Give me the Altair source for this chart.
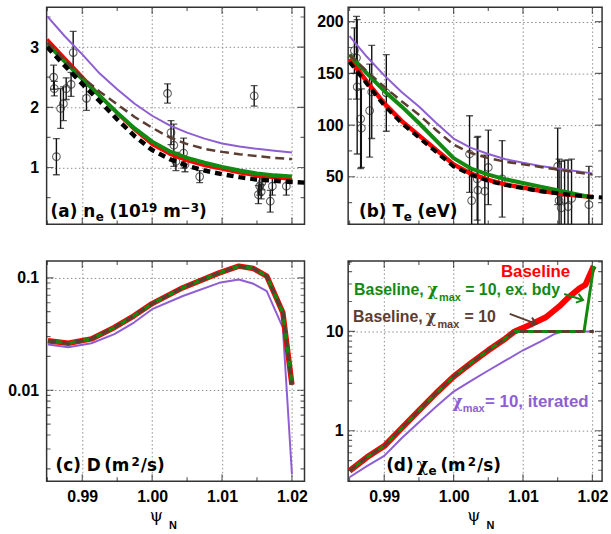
import altair as alt
import pandas as pd

# ---------------- data ----------------
PSI = [0.985, 0.9875, 0.99, 0.9925, 0.995, 0.9975, 1.0, 1.0025, 1.005, 1.0075,
       1.01, 1.0125, 1.015, 1.0175, 1.02]
PSI_FIT = PSI + [1.0225]

# (a) n_e (1e19 m^-3)
NE_ITERATED = [3.51, 3.18, 2.88, 2.56, 2.30, 2.06, 1.86, 1.70, 1.58, 1.48, 1.40, 1.35, 1.31, 1.28, 1.25]
NE_CHI10 = [3.08, 2.78, 2.50, 2.26, 2.05, 1.84, 1.66, 1.50, 1.39, 1.31, 1.26, 1.22, 1.19, 1.16, 1.14]
NE_BASELINE = [3.13, 2.82, 2.51, 2.20, 1.90, 1.62, 1.38, 1.22, 1.11, 1.03, 0.97, 0.91, 0.86, 0.83, 0.80]
NE_EXBDY = [3.05, 2.76, 2.47, 2.19, 1.91, 1.65, 1.43, 1.27, 1.16, 1.08, 1.01, 0.95, 0.90, 0.87, 0.85]
NE_FIT = [3.00, 2.69, 2.39, 2.10, 1.80, 1.52, 1.29, 1.14, 1.03, 0.95, 0.89, 0.84, 0.80, 0.78, 0.76, 0.745]

NE_PTS_PSI = [0.9859, 0.9860, 0.9863, 0.9869, 0.9873, 0.9877, 0.9884, 0.9887, 0.9906,
              1.0022, 1.0027, 1.0031, 1.0034, 1.0045, 1.0047, 1.0068,
              1.0146, 1.0152, 1.0154, 1.0156, 1.0157, 1.0169, 1.0172, 1.0192]
NE_PTS = [2.50, 2.31, 1.18, 1.98, 2.06, 2.31, 2.38, 2.91, 2.15,
          2.23, 1.58, 1.37, 1.10, 1.24, 1.05, 0.85,
          2.19, 0.55, 0.69, 0.60, 0.75, 0.44, 0.69, 0.69]
NE_ERR = [0.20, 0.12, 0.30, 0.33, 0.28, 0.18, 0.20, 0.35, 0.20,
          0.16, 0.20, 0.35, 0.15, 0.25, 0.12, 0.10,
          0.17, 0.15, 0.15, 0.12, 0.12, 0.18, 0.15, 0.15]

# (b) T_e (eV)
TE_ITERATED = [186, 166, 148, 132, 118, 102, 87, 78, 72, 67, 63.5, 60.5, 58, 55.5, 53.3]
TE_CHI10 = [168, 152, 137, 123, 110, 95, 81, 73, 68, 64.5, 62, 59.5, 57, 54.5, 52.3]
TE_BASELINE = [164, 142, 121, 104, 90, 76, 62, 53, 47, 42.5, 39.5, 36.5, 34, 32, 30.5]
TE_EXBDY = [168, 150, 133, 118, 102, 85, 68, 58, 52, 47.5, 44, 40.5, 37, 33.5, 30]
TE_FIT = [161, 140, 119, 102, 88, 74, 60, 52, 46, 42, 39, 36, 34, 32, 30.5, 29.5]

TE_PTS_PSI = [0.9857, 0.9860, 0.9861, 0.9866, 0.9867, 0.9879, 0.9882, 0.9903,
              1.0023, 1.0026, 1.0034, 1.0035, 1.0045, 1.0050, 1.0070,
              1.0150, 1.0152, 1.0155, 1.0160, 1.0165, 1.0170, 1.0195]
TE_PTS = [172, 165, 137, 106, 97, 114, 132, 131,
          72, 27, 48, 37, 36, 59, 48,
          60, 27, 20, 28, 21, 29, 23]
TE_ERR = [22, 40, 65, 48, 38, 45, 45, 37,
          37, 30, 40, 52, 35, 36, 37,
          37, 40, 45, 38, 45, 38, 37]

# (c) D (m^2/s)
D_PSI = [0.9851, 0.9880, 0.9913, 0.9946, 0.9974, 1.0000, 1.0044, 1.0096, 1.0124,
         1.0145, 1.0164, 1.0187, 1.0200]
D_BASELINE = [0.0276, 0.0262, 0.0286, 0.0362, 0.0459, 0.0590, 0.0817, 0.1107, 0.127,
              0.121, 0.1035, 0.049, 0.0112]
D_ITERATED = [0.0255, 0.0241, 0.0262, 0.0316, 0.0400, 0.0526, 0.0689, 0.0903, 0.0966,
              0.0885, 0.0762, 0.036, 0.0018]

# (d) chi_e (m^2/s)
CHI_PSI_BASE = [0.985, 0.9875, 0.99, 0.9925, 0.995, 0.9975, 1.0, 1.0025, 1.005, 1.0075,
                1.0088, 1.0113, 1.0133, 1.0152, 1.0167, 1.0181, 1.0190, 1.0202]
CHI_BASELINE = [0.395, 0.54, 0.70, 1.06, 1.60, 2.40, 3.50, 4.79, 6.46, 8.5,
                10.0, 11.9, 13.9, 17.8, 22.5, 27.0, 29.5, 45.5]
CHI_PSI_CAP = [0.985, 0.9875, 0.99, 0.9925, 0.995, 0.9975, 1.0, 1.0025, 1.005, 1.0075,
               1.0088, 1.0202]
CHI_CAP10 = [0.395, 0.54, 0.70, 1.06, 1.60, 2.40, 3.50, 4.79, 6.46, 8.5, 10.0, 10.0]
CHI_PSI_EXBDY = [0.985, 0.9875, 0.99, 0.9925, 0.995, 0.9975, 1.0, 1.0025, 1.005, 1.0075,
                 1.0088, 1.0188, 1.0202]
CHI_EXBDY = [0.395, 0.54, 0.70, 1.06, 1.60, 2.40, 3.50, 4.79, 6.46, 8.5, 10.0, 10.0, 45.5]
CHI_PSI_ITER = [0.985, 0.9875, 0.99, 0.9925, 0.995, 0.9975, 1.0, 1.0025, 1.005, 1.0075,
                1.01, 1.0125, 1.0145, 1.0158, 1.0202]
CHI_ITERATED = [0.34, 0.44, 0.558, 0.84, 1.22, 1.75, 2.48, 3.17, 4.04, 5.1,
                6.46, 7.9, 9.4, 10.0, 10.0]

# annotation arrows in panel (d): start psi, start chi, end psi, end chi
ARROW_EXBDY = [1.01594, 23.8, 1.01866, 20.7]
ARROW_CAP10 = [1.00809, 15.0, 1.01190, 11.9]

# axis ticks
X_TICKS = [0.99, 1.00, 1.01, 1.02]
X_MINOR = [0.985, 0.995, 1.005, 1.015]
NE_TICKS, NE_MINOR = [1, 2, 3], [0.5, 1.5, 2.5, 3.5]
TE_TICKS, TE_MINOR = [50, 100, 150, 200], [25, 75, 125, 175]
D_TICKS = [0.01, 0.1]
D_MINOR = [0.002, 0.003, 0.004, 0.005, 0.006, 0.007, 0.008, 0.009,
           0.02, 0.03, 0.04, 0.05, 0.06, 0.07, 0.08, 0.09]
CHI_TICKS = [1, 10]
CHI_MINOR = [0.4, 0.5, 0.6, 0.7, 0.8, 0.9, 2, 3, 4, 5, 6, 7, 8, 9, 20, 30, 40, 50]

# ---------------- styles ----------------
SANS = "Liberation Sans"
LABEL_FONT = "DejaVu Sans"
GREEK = "DejaVu Serif"
PURPLE = "#8e5ed2"
BROWN = "#5c3d31"
RED = "#ff0000"
GREEN = "#128a12"
BLACK = "#000000"
FRAME = "#333333"
LBL = 17   # panel label size
SUB = 12   # sub/superscript size

W_L, W_R = 260, 256
H_T, H_B = 219, 222

XD_L = [0.9849, 1.0218]
XD_R = [0.9848, 1.0214]
XS_L = alt.Scale(domain=XD_L, nice=False, zero=False)
XS_R = alt.Scale(domain=XD_R, nice=False, zero=False)


def x_axis(labels):
    if labels:
        return alt.Axis(values=X_TICKS, format=".2f", grid=True, labelPadding=7, title=None)
    return alt.Axis(values=X_TICKS, labels=False, grid=True, title=None)


def line(psi, vals, xs, ys, xa, ya, color, width, dash=None, clip=True):
    df = pd.DataFrame({"psi": psi, "v": vals})
    kw = dict(color=color, strokeWidth=width, clip=clip, strokeJoin="round")
    if dash:
        kw["strokeDash"] = dash
    return alt.Chart(df).mark_line(**kw).encode(
        x=alt.X("psi:Q", scale=xs, axis=xa),
        y=alt.Y("v:Q", scale=ys, axis=ya),
    )


def points(psi, vals, errs, xs, ys, xa, ya):
    df = pd.DataFrame({"psi": psi, "v": vals,
                       "lo": [v - e for v, e in zip(vals, errs)],
                       "hi": [v + e for v, e in zip(vals, errs)]})
    base = alt.Chart(df)
    x = alt.X("psi:Q", scale=xs, axis=xa)
    bars = base.mark_rule(color="#111", strokeWidth=1.4, clip=True).encode(
        x=x, y=alt.Y("lo:Q", scale=ys, axis=ya), y2="hi:Q")
    cap_lo = base.mark_tick(color="#111", orient="horizontal", size=7, thickness=1.3,
                            clip=True).encode(x=x, y=alt.Y("lo:Q", scale=ys, axis=ya))
    cap_hi = base.mark_tick(color="#111", orient="horizontal", size=7, thickness=1.3,
                            clip=True).encode(x=x, y=alt.Y("hi:Q", scale=ys, axis=ya))
    circ = base.mark_point(shape="circle", filled=False, size=60, color="#222",
                           strokeWidth=1.1, clip=True).encode(
        x=x, y=alt.Y("v:Q", scale=ys, axis=ya))
    return [bars, cap_lo, cap_hi, circ]


def frame_ticks(xd, yd, xs, ys, xa, ya, ymaj, ymin):
    """Inward ticks on all four sides (half of each tick is clipped away)."""
    layers = []
    for vals, size in ((X_TICKS, 14), (X_MINOR, 8)):
        rows = [{"psi": v, "v": e} for v in vals for e in yd]
        layers.append(alt.Chart(pd.DataFrame(rows)).mark_tick(
            color="#222222", orient="vertical", size=size, thickness=1.2, clip=True).encode(
            x=alt.X("psi:Q", scale=xs, axis=xa), y=alt.Y("v:Q", scale=ys, axis=ya)))
    for vals, size in ((ymaj, 14), (ymin, 8)):
        rows = [{"psi": e, "v": v} for v in vals for e in xd]
        layers.append(alt.Chart(pd.DataFrame(rows)).mark_tick(
            color="#222222", orient="horizontal", size=size, thickness=1.2, clip=True).encode(
            x=alt.X("psi:Q", scale=xs, axis=xa), y=alt.Y("v:Q", scale=ys, axis=ya)))
    return layers


def txt(s, x, y, size=16, color=BLACK, font=SANS, weight="bold"):
    return alt.Chart(alt.Data(values=[{}])).mark_text(
        text=s, font=font, fontSize=size, fontWeight=weight, color=color,
        align="left", baseline="alphabetic").encode(x=alt.value(x), y=alt.value(y))


def lab(s, x, y, size=LBL, font=LABEL_FONT, weight="bold"):
    return txt(s, x, y, size, BLACK, font, weight)


# ---------------- panel (a) ----------------
YD_A = [0.056, 3.664]
ys_a = alt.Scale(domain=YD_A, nice=False, zero=False)
ya_a = alt.Axis(values=NE_TICKS, format="d", grid=True, labelPadding=8, title=None)
xa_a = x_axis(False)
pa = alt.layer(
    *frame_ticks(XD_L, YD_A, XS_L, ys_a, xa_a, ya_a, NE_TICKS, NE_MINOR),
    *points(NE_PTS_PSI, NE_PTS, NE_ERR, XS_L, ys_a, xa_a, ya_a),
    line(PSI, NE_ITERATED, XS_L, ys_a, xa_a, ya_a, PURPLE, 2),
    line(PSI, NE_BASELINE, XS_L, ys_a, xa_a, ya_a, RED, 3),
    line(PSI, NE_EXBDY, XS_L, ys_a, xa_a, ya_a, GREEN, 4),
    line(PSI, NE_CHI10, XS_L, ys_a, xa_a, ya_a, BROWN, 2.5, dash=[9, 5]),
    line(PSI_FIT, NE_FIT, XS_L, ys_a, xa_a, ya_a, BLACK, 4.5, dash=[7, 5]),
    lab("(a) n", 4, 211.5),
    lab("e", 49.5, 215.5, SUB),
    lab("(10", 63.5, 211.5),
    lab("19", 95, 206.5, SUB),
    lab("m", 117.6, 211.5),
    lab("\u22123", 135.3, 206.5, SUB),
    lab(")", 153.7, 211.5),
).properties(width=W_L, height=H_T)

# ---------------- panel (b) ----------------
YD_B = [4, 214]
ys_b = alt.Scale(domain=YD_B, nice=False, zero=False)
ya_b = alt.Axis(values=TE_TICKS, format="d", grid=True, labelPadding=5, title=None)
xa_b = x_axis(False)
pb = alt.layer(
    *frame_ticks(XD_R, YD_B, XS_R, ys_b, xa_b, ya_b, TE_TICKS, TE_MINOR),
    *points(TE_PTS_PSI, TE_PTS, TE_ERR, XS_R, ys_b, xa_b, ya_b),
    line(PSI, TE_ITERATED, XS_R, ys_b, xa_b, ya_b, PURPLE, 2),
    line(PSI, TE_BASELINE, XS_R, ys_b, xa_b, ya_b, RED, 4.5),
    line(PSI, TE_EXBDY, XS_R, ys_b, xa_b, ya_b, GREEN, 4),
    line(PSI, TE_CHI10, XS_R, ys_b, xa_b, ya_b, BROWN, 2.5, dash=[9, 5]),
    line(PSI_FIT, TE_FIT, XS_R, ys_b, xa_b, ya_b, BLACK, 4, dash=[7, 5]),
    lab("(b) T", 11, 211.5),
    lab("e", 56, 215.5, SUB),
    lab("(eV)", 70, 211.5),
).properties(width=W_R, height=H_T)

# ---------------- panel (c) ----------------
YD_C = [0.00155, 0.141]
ys_c = alt.Scale(type="log", domain=YD_C, nice=False)
ya_c = alt.Axis(values=D_TICKS, format="~g", grid=True, labelPadding=8, title=None)
xa_c = x_axis(True)
pc = alt.layer(
    *frame_ticks(XD_L, YD_C, XS_L, ys_c, xa_c, ya_c, D_TICKS, D_MINOR),
    line(D_PSI, D_ITERATED, XS_L, ys_c, xa_c, ya_c, PURPLE, 2),
    line(D_PSI, D_BASELINE, XS_L, ys_c, xa_c, ya_c, RED, 5.5),
    line(D_PSI, D_BASELINE, XS_L, ys_c, xa_c, ya_c, GREEN, 3.5),
    line(D_PSI, D_BASELINE, XS_L, ys_c, xa_c, ya_c, BROWN, 3.5, dash=[8, 6]),
    lab("(c) D", 9, 211.7),
    lab("(m", 58, 211.7),
    lab("2", 85.5, 206.5, SUB),
    lab("/s)", 95, 211.7),
    txt("\u03c8", 104, 262, 17, font=GREEK, weight="normal"),
    txt("N", 123.5, 270, 11),
).properties(width=W_L, height=H_B)

# ---------------- panel (d) ----------------
YD_D = [0.31, 51.1]
ys_d = alt.Scale(type="log", domain=YD_D, nice=False)
ya_d = alt.Axis(values=CHI_TICKS, format="d", grid=True, labelPadding=5, title=None)
xa_d = x_axis(True)


def arrow(a, color):
    df = pd.DataFrame({"p1": [a[0]], "c1": [a[1]], "p2": [a[2]], "c2": [a[3]]})
    return alt.Chart(df).mark_rule(color=color, strokeWidth=2).encode(
        x=alt.X("p1:Q", scale=XS_R, axis=xa_d), y=alt.Y("c1:Q", scale=ys_d, axis=ya_d),
        x2="p2:Q", y2="c2:Q")


def arrow_head(a, color, ang):
    df = pd.DataFrame({"p2": [a[2]], "c2": [a[3]]})
    return alt.Chart(df).mark_point(shape="M-1,-0.75L0,0L-1,0.75", filled=False,
                                    size=150, strokeWidth=2, color=color, angle=ang,
                                    opacity=1).encode(
        x=alt.X("p2:Q", scale=XS_R, axis=xa_d), y=alt.Y("c2:Q", scale=ys_d, axis=ya_d))


pd_ = alt.layer(
    *frame_ticks(XD_R, YD_D, XS_R, ys_d, xa_d, ya_d, CHI_TICKS, CHI_MINOR),
    line(CHI_PSI_BASE, CHI_BASELINE, XS_R, ys_d, xa_d, ya_d, RED, 6),
    line(CHI_PSI_ITER, CHI_ITERATED, XS_R, ys_d, xa_d, ya_d, PURPLE, 2),
    line(CHI_PSI_EXBDY, CHI_EXBDY, XS_R, ys_d, xa_d, ya_d, GREEN, 3),
    line(CHI_PSI_CAP, CHI_CAP10, XS_R, ys_d, xa_d, ya_d, BROWN, 3, dash=[8, 6]),
    arrow(ARROW_EXBDY, GREEN), arrow_head(ARROW_EXBDY, GREEN, 17),
    arrow(ARROW_CAP10, BROWN), arrow_head(ARROW_CAP10, BROWN, 20),
    txt("Baseline", 154, 15.7, 17, color=RED),
    txt("Baseline,", 6, 34.3, 16, color=GREEN),
    txt("\u03c7", 80, 34.3, 16, color=GREEN, font=GREEK),
    txt("max", 91.7, 40, 11, color=GREEN),
    txt("= 10, ex. bdy", 118, 34.3, 16, color=GREEN),
    txt("Baseline,", 5, 61.7, 16, color=BROWN),
    txt("\u03c7", 78.3, 61.7, 16, color=BROWN, font=GREEK),
    txt("max", 90, 67, 11, color=BROWN),
    txt("= 10", 117.3, 61.7, 16, color=BROWN),
    txt("\u03c7", 105, 146.7, 16, color=PURPLE, font=GREEK),
    txt("max", 115.5, 152, 11, color=PURPLE),
    txt("= 10, iterated", 138, 146.7, 17, color=PURPLE),
    lab("(d)", 38.3, 211.7),
    lab("\u03c7", 69, 211.7, 18, font=GREEK),
    lab("e", 81, 215.5, SUB),
    lab("(m", 93, 211.7),
    lab("2", 120.5, 206.5, SUB),
    lab("/s)", 130, 211.7),
    txt("\u03c8", 120, 262, 17, font=GREEK, weight="normal"),
    txt("N", 139.5, 270, 11),
).properties(width=W_R, height=H_B)

chart = alt.concat(
    pa, pb, pc, pd_, columns=2, spacing={"row": 37, "column": 44}, bounds="flush"
).properties(
    padding={"left": 7, "top": 4, "right": 2, "bottom": 2},
    background="white",
).configure_view(
    stroke=FRAME, strokeWidth=1.5
).configure_axis(
    labelFont=SANS, labelFontSize=16, labelFontWeight="bold", labelColor="black",
    gridColor="#8c8c8c", gridDash=[1.5, 2.5], gridWidth=1, gridOpacity=1,
    domain=False, ticks=False, title=None,
)

chart.save("out.html", embed_options={"renderer": "svg", "actions": False})
